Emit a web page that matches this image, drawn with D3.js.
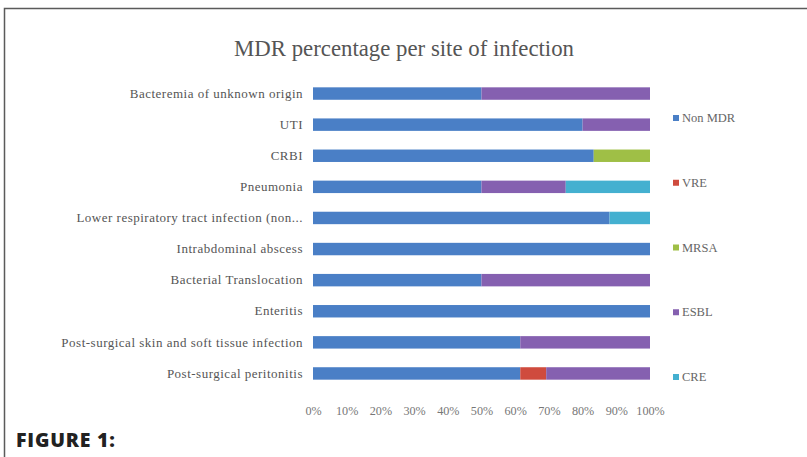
<!DOCTYPE html>
<html><head><meta charset="utf-8">
<script src="https://cdn.jsdelivr.net/npm/d3@7"></script>
<style>body{margin:0;background:#fff}svg{display:block}</style>
</head><body>
<script>
const categories = ["Bacteremia of unknown origin","UTI","CRBI","Pneumonia","Lower respiratory tract infection (non...","Intrabdominal abscess","Bacterial Translocation","Enteritis","Post-surgical skin and soft tissue infection","Post-surgical peritonitis"];
const seriesNames = ["Non MDR","VRE","MRSA","ESBL","CRE"];
const nonMDR = [50, 80, 83.3, 50, 88, 100, 50, 100, 61.5, 61.5];
const vre    = [0, 0, 0, 0, 0, 0, 0, 0, 0, 7.7];
const mrsa   = [0, 0, 16.7, 0, 0, 0, 0, 0, 0, 0];
const esbl   = [50, 20, 0, 25, 0, 0, 50, 0, 38.5, 30.8];
const cre    = [0, 0, 0, 25, 12, 0, 0, 0, 0, 0];
const xTicks = [0,10,20,30,40,50,60,70,80,90,100];
const colors = ["#4a7fc6","#cf4b3e","#9fbf46","#8560b0","#44b0d0"];

const W=807,H=457;
const svg=d3.select("body").append("svg").attr("width",W).attr("height",H);
// frame
svg.append("path").attr("d",`M4.5,${H} V8.5 H${W}`).attr("fill","none").attr("stroke","#5a5a5a").attr("stroke-width",1.5);

const serif="'Liberation Serif','DejaVu Serif',serif";
svg.append("text").attr("x",404).attr("y",56).attr("text-anchor","middle")
  .attr("font-family",serif).attr("font-size",22.8).attr("fill","#555").text("MDR percentage per site of infection");

const x=d3.scaleLinear().domain([0,100]).range([313,650]);
const y=d3.scaleBand().domain(categories).range([78,389]).paddingInner(0.6).paddingOuter(0.3);

const rows=categories.map((c,i)=>({cat:c,"Non MDR":nonMDR[i],VRE:vre[i],MRSA:mrsa[i],ESBL:esbl[i],CRE:cre[i]}));
const stack=d3.stack().keys(seriesNames)(rows);
const g=svg.append("g");
stack.forEach((s,k)=>{
  g.selectAll(null).data(s).join("rect")
   .attr("x",d=>x(d[0])).attr("width",d=>Math.max(0,x(d[1])-x(d[0])))
   .attr("y",d=>y(d.data.cat)).attr("height",y.bandwidth())
   .attr("fill",colors[k]);
});

// y labels
const ya=svg.append("g").attr("transform","translate(313,0)").call(d3.axisLeft(y).tickSize(0).tickPadding(10));
ya.select(".domain").remove();
ya.selectAll("text").attr("font-family",serif).attr("font-size",13).attr("letter-spacing",0.5).attr("fill","#555");

// x axis
const xa=svg.append("g").attr("transform","translate(0,398)").call(d3.axisBottom(x).tickValues(xTicks).tickFormat(d=>d+"%").tickSize(0).tickPadding(8));
xa.select(".domain").remove();
xa.selectAll("text").attr("font-family",serif).attr("font-size",12.2).attr("fill","#777");

// legend
const ly=d3.scalePoint().domain(seriesNames).range([118,377]);
const lg=svg.append("g");
seriesNames.forEach((n,k)=>{
  lg.append("rect").attr("x",673).attr("y",ly(n)-3).attr("width",6).attr("height",6).attr("fill",colors[k]);
  lg.append("text").attr("x",682).attr("y",ly(n)+4).attr("font-family",serif).attr("font-size",12.5).attr("fill","#666").text(n);
});

svg.append("text").attr("x",16).attr("y",447).attr("font-family","'Open Sans',Lato,sans-serif").attr("font-weight",800)
  .attr("font-size",19.5).attr("letter-spacing",0.8).attr("fill","#222").text("FIGURE 1:");
</script>
</body></html>
